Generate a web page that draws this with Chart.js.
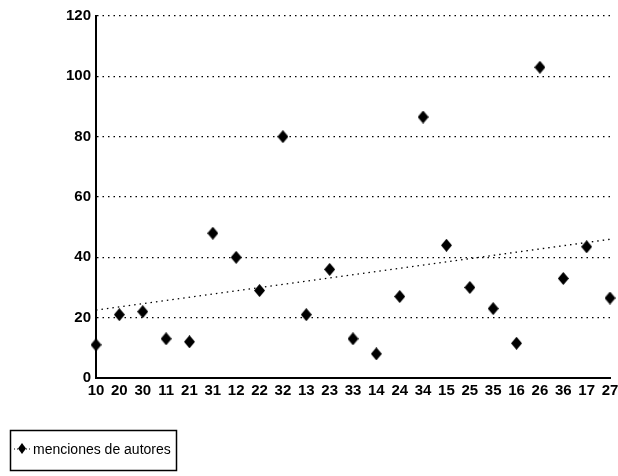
<!DOCTYPE html>
<html>
<head>
<meta charset="utf-8">
<script src="https://cdn.jsdelivr.net/npm/chart.js@4"></script>
<style>
  html, body { margin: 0; padding: 0; background: #fff; }
  #wrap { width: 618px; height: 476px; }
</style>
</head>
<body>
<div id="wrap"><canvas id="myChart" width="618" height="476"></canvas></div>
<script>
// categories along the x axis
const categories = ["10","20","30","11","21","31","12","22","32","13","23","33","14","24","34","15","25","35","16","26","36","17","27"];
// menciones de autores
const mentions = [11, 21, 22, 13, 12, 48, 40, 29, 80, 21, 36, 13, 8, 27, 86.5, 44, 30, 23, 11.5, 103, 33, 43.5, 26.5];
// trend line ends (first / last category)
const trendEnds = [22.5, 46];
const yTicks = [0, 20, 40, 60, 80, 100, 120];
const legendLabel = "menciones de autores";

const FONT = "'Liberation Sans', Arial, sans-serif";

// diamond a bit taller than wide, like the scanned marker
function diamond(w, h) {
  const c = document.createElement("canvas");
  c.width = w; c.height = h;
  const g = c.getContext("2d");
  g.fillStyle = "#000";
  g.beginPath();
  g.moveTo(w / 2, 0);
  g.lineTo(w, h / 2);
  g.lineTo(w / 2, h);
  g.lineTo(0, h / 2);
  g.closePath();
  g.fill();
  return c;
}
const marker = diamond(11, 13);

// legend box drawn by hand under the chart
const boxLegend = {
  id: "boxLegend",
  afterDraw(chart) {
    const ctx = chart.ctx;
    ctx.save();
    ctx.strokeStyle = "#000";
    ctx.lineWidth = 1.5;
    ctx.strokeRect(10.5, 430.5, 166, 40);
    ctx.lineWidth = 1;
    ctx.setLineDash([1, 2]);
    ctx.beginPath();
    ctx.moveTo(14, 449);
    ctx.lineTo(30, 449);
    ctx.stroke();
    ctx.setLineDash([]);
    ctx.drawImage(diamond(8, 11), 18, 443);
    ctx.fillStyle = "#000";
    ctx.font = "14px " + FONT;
    ctx.textBaseline = "middle";
    ctx.fillText(legendLabel, 33, 450);
    ctx.restore();
  }
};

new Chart("myChart", {
  type: "line",
  data: {
    labels: categories,
    datasets: [
      {
        label: legendLabel,
        data: mentions,
        showLine: false,
        pointStyle: marker,
        pointRadius: 6,
        pointBackgroundColor: "#000",
        pointBorderColor: "#000"
      },
      {
        label: "trend",
        data: [
          { x: categories[0], y: trendEnds[0] },
          { x: categories[categories.length - 1], y: trendEnds[1] }
        ],
        borderColor: "#000",
        borderWidth: 1.3,
        borderDash: [1.5, 4],
        pointRadius: 0,
        fill: false
      }
    ]
  },
  options: {
    responsive: false,
    animation: false,
    devicePixelRatio: 1,
    layout: { padding: { left: 0, right: 8, top: 16, bottom: 74 } },
    plugins: {
      legend: { display: false },
      tooltip: { enabled: false }
    },
    scales: {
      x: {
        type: "category",
        offset: false,
        grid: { display: false, drawTicks: false },
        border: { display: true, color: "#000", width: 2 },
        ticks: {
          autoSkip: false,
          maxRotation: 0,
          padding: 4,
          color: "#000",
          font: { family: FONT, size: 15, weight: "bold" }
        },
        afterFit(s) { s.height = 24; s.paddingLeft = 0; s.paddingRight = 0; }
      },
      y: {
        min: 0,
        max: 120,
        afterBuildTicks(s) { s.ticks = yTicks.map(v => ({ value: v })); },
        grid: {
          drawTicks: false,
          color: c => (c.tick && c.tick.value === 0 ? "rgba(0,0,0,0)" : "#000"),
          lineWidth: 1.2
        },
        border: { display: true, color: "#000", width: 2, dash: [1.5, 4] },
        ticks: {
          padding: 5,
          color: "#000",
          font: { family: FONT, size: 15, weight: "bold" }
        },
        afterFit(s) { s.width = 96; s.paddingTop = 0; s.paddingBottom = 0; }
      }
    }
  },
  plugins: [boxLegend]
});
</script>
</body>
</html>
